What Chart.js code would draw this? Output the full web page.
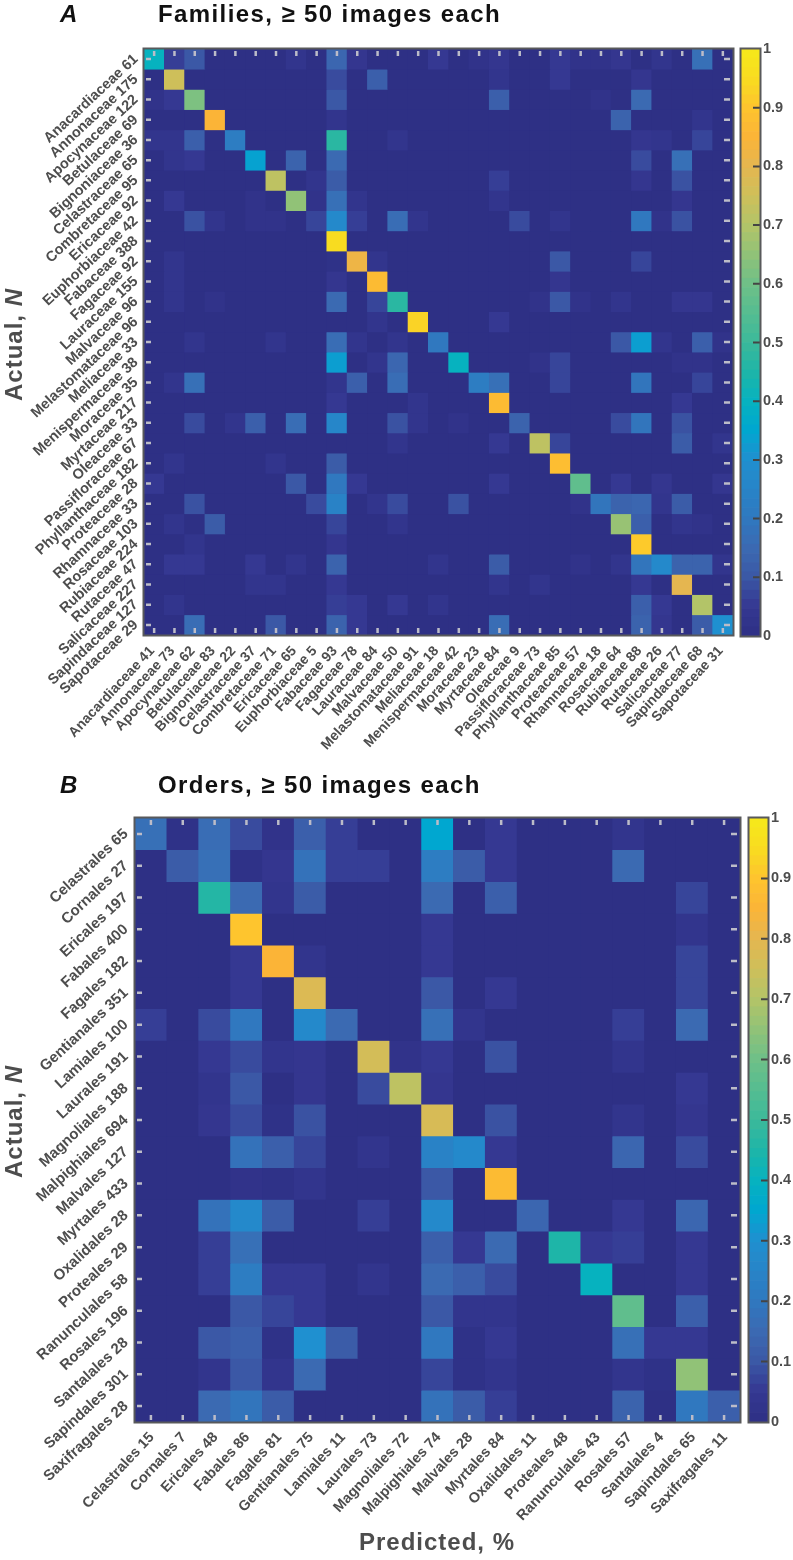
<!DOCTYPE html>
<html><head><meta charset="utf-8">
<script src="https://cdn.jsdelivr.net/npm/chart.js@4"></script>
<style>
html,body{margin:0;padding:0;background:#fff;width:793px;height:1560px;overflow:hidden}
canvas{position:absolute}
.t{position:absolute;font-family:"Liberation Sans",Arial,sans-serif;font-weight:bold;white-space:nowrap;line-height:1;z-index:5}
.h{font-size:24px;color:#111;letter-spacing:1.4px}
.l{font-size:24px;color:#4d4d4d;letter-spacing:1px}
.v{transform-origin:0 0;transform:rotate(-90deg)}
</style></head><body>
<div class="t h" style="left:60px;top:2px;font-style:italic">A</div>
<div class="t h" style="left:158px;top:2px">Families, ≥ 50 images each</div>
<div class="t h" style="left:60px;top:773px;font-style:italic">B</div>
<div class="t h" style="left:158px;top:773px">Orders, ≥ 50 images each</div>
<div class="t l v" style="left:2px;top:401px">Actual, <i>N</i></div>
<div class="t l v" style="left:2px;top:1178px">Actual, <i>N</i></div>
<div class="t l" style="left:359px;top:1530px">Predicted, %</div>
<canvas id="hA"></canvas><canvas id="cA"></canvas>
<canvas id="hB"></canvas><canvas id="cB"></canvas>
<script>
const familyRows = ["Anacardiaceae 61","Annonaceae 175","Apocynaceae 122","Betulaceae 69","Bignoniaceae 36","Celastraceae 65","Combretaceae 95","Ericaceae 92","Euphorbiaceae 42","Fabaceae 388","Fagaceae 92","Lauraceae 155","Malvaceae 96","Melastomataceae 96","Meliaceae 33","Menispermaceae 38","Moraceae 35","Myrtaceae 217","Oleaceae 33","Passifloraceae 67","Phyllanthaceae 182","Proteaceae 28","Rhamnaceae 33","Rosaceae 103","Rubiaceae 224","Rutaceae 47","Salicaceae 227","Sapindaceae 127","Sapotaceae 29"];
const familyCols = ["Anacardiaceae 41","Annonaceae 73","Apocynaceae 62","Betulaceae 83","Bignoniaceae 22","Celastraceae 37","Combretaceae 71","Ericaceae 65","Euphorbiaceae 5","Fabaceae 93","Fagaceae 78","Lauraceae 84","Malvaceae 50","Melastomataceae 91","Meliaceae 18","Menispermaceae 42","Moraceae 23","Myrtaceae 84","Oleaceae 9","Passifloraceae 73","Phyllanthaceae 85","Proteaceae 57","Rhamnaceae 18","Rosaceae 64","Rubiaceae 88","Rutaceae 26","Salicaceae 77","Sapindaceae 68","Sapotaceae 31"];
const familyValues = [
[40,6,10,0,0,0,0,3,0,14,4,0,0,0,5,0,2,4,0,0,5,2,2,4,0,3,0,17,0],
[0,75,0,0,0,0,0,0,0,8,0,12,0,0,0,0,0,3,0,0,5,0,0,0,4,0,0,0,0],
[2,5,62,0,0,0,0,0,0,10,0,0,0,0,0,0,0,12,0,0,0,0,2,0,15,0,0,0,0],
[0,0,0,85,0,0,0,0,0,3,0,0,0,0,0,0,0,0,0,0,0,0,0,13,0,0,0,3,0],
[3,3,12,0,22,0,0,0,0,47,0,0,3,0,0,0,0,0,0,0,0,0,0,0,4,3,0,7,0],
[0,3,5,0,0,34,0,13,0,15,0,0,0,0,0,0,0,0,0,0,0,0,0,0,8,0,17,0,0],
[0,0,0,0,0,0,72,0,3,11,0,0,0,0,0,0,0,6,0,0,0,0,0,0,4,0,9,0,0],
[0,5,0,0,0,2,0,65,2,17,3,0,0,0,0,0,0,3,0,0,0,0,0,0,0,0,4,0,0],
[0,0,9,3,0,2,2,0,7,27,6,0,16,3,0,0,0,0,8,0,3,0,0,0,20,2,9,0,0],
[0,0,0,0,0,0,0,0,0,95,0,0,0,0,0,0,0,0,0,0,0,0,0,0,0,0,0,0,0],
[0,3,0,0,0,0,0,0,0,1,82,3,0,0,0,0,0,0,0,0,10,0,0,0,7,0,0,0,0],
[0,3,0,0,0,0,0,0,0,4,0,87,0,0,0,0,0,0,0,0,4,0,0,0,0,0,0,0,0],
[0,3,0,2,0,0,0,0,0,15,0,7,47,0,0,0,0,0,0,2,10,2,0,3,0,0,4,4,0],
[0,0,0,0,0,0,0,0,0,0,0,3,0,93,0,0,0,5,0,0,0,0,0,0,0,0,0,0,0],
[0,0,3,0,0,0,3,0,0,16,3,0,3,0,20,0,0,0,0,0,0,0,0,10,33,3,0,12,2],
[0,0,0,0,0,0,0,0,0,33,0,3,14,0,0,40,0,0,0,2,7,0,0,0,0,0,2,2,0],
[0,3,17,0,0,0,0,0,0,3,12,0,16,0,0,0,22,17,0,0,7,0,0,0,19,0,0,7,0],
[0,0,0,0,0,0,0,0,0,5,0,0,0,3,0,0,0,87,0,0,0,0,0,0,0,0,5,0,0],
[0,0,8,0,3,12,0,16,0,26,0,0,9,3,0,2,0,0,13,0,0,0,0,8,19,0,9,0,0],
[0,0,0,0,0,0,0,0,0,0,0,0,3,0,0,0,0,5,0,72,7,0,0,0,0,0,11,0,3],
[0,3,0,0,0,0,3,0,0,11,0,0,0,0,0,0,0,0,0,0,88,0,0,0,0,0,0,0,0],
[5,0,0,0,0,0,0,10,0,20,5,0,0,0,0,0,0,5,0,0,0,57,0,5,0,4,0,0,4],
[0,0,9,0,0,0,0,0,8,24,0,3,8,0,0,9,0,0,0,0,0,2,19,13,14,3,11,0,0],
[0,3,0,11,0,0,0,0,0,7,0,0,3,0,0,0,0,0,0,0,0,0,0,66,12,0,3,2,0],
[0,0,3,0,0,0,0,0,0,4,0,0,0,0,0,0,0,0,0,0,0,0,0,0,91,0,0,0,0],
[0,5,5,0,0,5,0,3,0,13,0,0,0,0,3,0,0,11,0,0,0,2,0,3,19,27,13,13,3],
[0,0,0,0,0,3,3,0,0,5,0,0,0,0,0,0,0,3,0,3,0,0,0,0,5,0,80,0,0],
[0,3,0,0,0,0,0,0,0,6,5,0,5,0,3,0,0,0,0,0,0,0,0,0,12,5,0,70,0],
[0,0,16,0,0,0,10,0,0,13,5,0,0,0,0,0,0,16,0,0,0,0,0,0,13,4,0,11,30]
];
const orderRows = ["Celastrales 65","Cornales 27","Ericales 197","Fabales 400","Fagales 182","Gentianales 351","Lamiales 100","Laurales 191","Magnoliales 188","Malpighiales 694","Malvales 127","Myrtales 433","Oxalidales 28","Proteales 29","Ranunculales 58","Rosales 196","Santalales 28","Sapindales 301","Saxifragales 28"];
const orderCols = ["Celastrales 15","Cornales 7","Ericales 48","Fabales 86","Fagales 81","Gentianales 75","Lamiales 11","Laurales 73","Magnoliales 72","Malpighiales 74","Malvales 28","Myrtales 84","Oxalidales 11","Proteales 48","Ranunculales 43","Rosales 57","Santalales 4","Sapindales 65","Saxifragales 11"];
const orderValues = [
[17,1,16,8,2,12,6,0,0,35,0,5,0,0,0,3,0,0,0],
[0,11,17,1,4,18,6,6,0,22,11,5,0,0,0,15,0,0,0],
[0,0,46,15,3,11,0,0,0,15,0,12,0,0,0,0,0,7,0],
[0,0,0,90,0,0,0,0,0,5,0,0,0,0,0,0,0,3,0],
[0,0,0,5,85,3,0,0,0,5,0,0,0,0,0,0,0,7,0],
[0,0,0,5,0,78,0,0,0,10,0,5,0,0,0,0,0,7,0],
[6,0,8,20,0,27,15,0,0,17,3,0,0,0,0,6,0,15,0],
[0,0,5,8,3,4,0,76,2,5,0,9,0,0,0,3,0,0,0],
[0,0,3,10,0,4,0,8,72,4,0,0,0,0,0,0,0,5,0],
[0,0,4,8,1,9,0,0,0,77,0,9,0,0,0,3,0,4,0],
[0,0,0,18,12,7,0,3,0,24,27,5,0,0,0,14,0,8,0],
[0,0,0,2,1,3,0,0,0,10,0,87,0,0,0,0,0,0,0],
[0,0,18,27,11,0,0,6,0,27,0,0,14,0,0,5,0,14,0],
[0,0,6,17,0,0,0,0,0,12,5,15,0,45,5,6,0,5,0],
[0,0,6,22,5,5,0,3,0,15,12,8,0,0,40,0,0,5,0],
[0,0,0,10,7,5,0,0,0,10,3,3,0,0,0,57,0,12,0],
[0,0,10,12,1,30,11,0,0,20,1,5,0,0,0,17,5,5,0],
[0,0,3,10,3,15,0,0,0,7,1,3,0,0,0,3,1,65,0],
[0,0,15,19,11,0,0,0,0,18,11,6,0,0,0,13,0,20,12]
];
const colorbarTicks = [0,0.1,0.2,0.3,0.4,0.5,0.6,0.7,0.8,0.9,1];

const stops = [[0,[46,48,133]],[.05,[53,56,146]],[.1,[59,88,166]],[.15,[59,106,178]],[.2,[48,120,191]],[.3,[31,144,208]],[.35,[0,167,208]],[.4,[6,178,191]],[.45,[30,181,168]],[.5,[60,185,154]],[.6,[111,192,135]],[.7,[179,196,104]],[.75,[206,191,90]],[.8,[229,182,80]],[.85,[251,180,55]],[.9,[254,197,46]],[.95,[248,220,32]],[1,[246,233,26]]];
function colorAt(t){
  for(let i=1;i<stops.length;i++){
    if(t<=stops[i][0]){
      const [a,ca]=stops[i-1],[b,cb]=stops[i],f=(t-a)/(b-a);
      return `rgb(${ca.map((v,k)=>Math.round(v+(cb[k]-v)*f)).join(',')})`;
    }
  }
  return 'rgb(246,233,26)';
}
const FAMILY='"Liberation Sans",Arial,sans-serif';
const TXT='#4d4d4d', FRAME='#58595b', TICK='#bcbcc8';

const framePlugin={id:'frame',
  beforeDatasetsDraw(c){const a=c.chartArea,x=c.ctx;x.save();x.fillStyle=colorAt(0);x.fillRect(a.left,a.top,a.width,a.height);x.restore();},
  afterDatasetsDraw(c){
    const a=c.chartArea,x=c.ctx,sx=c.scales.x,sy=c.scales.y;
    x.save();x.strokeStyle=TICK;x.lineWidth=2.5;x.beginPath();
    sx.ticks.forEach((_,i)=>{const p=sx.getPixelForTick(i);x.moveTo(p,a.top+2);x.lineTo(p,a.top+7);x.moveTo(p,a.bottom-7);x.lineTo(p,a.bottom-2);});
    sy.ticks.forEach((t)=>{const p=sy.getPixelForValue(t.value);x.moveTo(a.left+2,p);x.lineTo(a.left+7,p);x.moveTo(a.right-9,p);x.lineTo(a.right-3,p);});
    x.stroke();
    x.strokeStyle=FRAME;x.lineWidth=2;x.strokeRect(a.left-.5,a.top-.5,a.width+1,a.height+1);
    x.restore();
  }};
const cbarPlugin={id:'cbarFrame',
  afterDatasetsDraw(c){
    const a=c.chartArea,x=c.ctx,sy=c.scales.y;
    x.save();x.strokeStyle='#444';x.lineWidth=2;x.beginPath();
    sy.ticks.forEach(t=>{if(t.value>0&&t.value<1){const p=sy.getPixelForValue(t.value);x.moveTo(a.right-7,p);x.lineTo(a.right,p);}});
    x.stroke();
    x.strokeStyle=FRAME;x.lineWidth=2;x.strokeRect(a.left-.5,a.top-.5,a.width+1,a.height+1);
    x.restore();
  }};

function place(id,l,t,w,h){const c=document.getElementById(id);c.style.left=l+'px';c.style.top=t+'px';c.width=w;c.height=h;c.style.width=w+'px';c.style.height=h+'px';return c;}

function heatmap(id,rows,cols,vals,top,w,h,L,R,T,B,st){
  const cv=place(id,0,top,w,h);
  const N=rows.length;
  return new Chart(cv,{type:'bar',plugins:[framePlugin],
    data:{labels:cols,datasets:vals.map((row,i)=>({
      label:rows[i],data:row.map(()=>[i,i+1]),
      backgroundColor:row.map(v=>colorAt(v/100)),
      borderWidth:0,barPercentage:1,categoryPercentage:1}))},
    options:{responsive:false,animation:false,events:[],
      layout:{padding:{top:T-top,right:w-R,left:0,bottom:0}},
      plugins:{legend:{display:false},tooltip:{enabled:false},title:{display:false}},
      scales:{
        x:{type:'category',stacked:true,offset:true,grid:{display:false,drawTicks:false},border:{display:false},
          afterFit(s){s.height=top+h-B;s.paddingLeft=0;s.paddingRight=0;},
          ticks:{autoSkip:false,minRotation:47,maxRotation:47,padding:st.xPad,labelOffset:st.xOff,color:TXT,font:{family:FAMILY,weight:'bold',size:st.xSize}}},
        y:{type:'linear',reverse:true,min:0,max:N,grid:{display:false,drawTicks:false},border:{display:false},
          afterFit(s){s.width=L;s.paddingTop=0;s.paddingBottom=0;},
          afterBuildTicks(s){s.ticks=rows.map((_,i)=>({value:i+.5}));},
          ticks:{autoSkip:false,minRotation:43,maxRotation:43,padding:st.yPad,labelOffset:st.yOff,color:TXT,font:{family:FAMILY,weight:'bold',size:st.ySize},
            callback:v=>rows[Math.round(v-.5)]}}
      }}});
}
function colorbar(id,left,top,w,h,T,B,L,R){
  const cv=place(id,left,top,w,h);
  const levels=Array.from({length:64},(_,k)=>k);
  return new Chart(cv,{type:'bar',plugins:[cbarPlugin],
    data:{labels:[''],datasets:levels.map(k=>({data:[[k/64,(k+1)/64]],backgroundColor:colorAt((k+.5)/64),borderWidth:0,barPercentage:1,categoryPercentage:1}))},
    options:{responsive:false,animation:false,events:[],
      layout:{padding:{top:T-top,bottom:top+h-B,left:L-left,right:0}},
      plugins:{legend:{display:false},tooltip:{enabled:false}},
      scales:{
        x:{stacked:true,display:false},
        y:{type:'linear',position:'right',min:0,max:1,grid:{display:false,drawTicks:false},border:{display:false},
          afterFit(s){s.width=left+w-R;s.paddingTop=0;s.paddingBottom=0;},
          afterBuildTicks(s){s.ticks=colorbarTicks.map(v=>({value:v}));},
          ticks:{padding:3,color:TXT,font:{family:FAMILY,weight:'bold',size:14.5},callback:v=>String(v)}}
      }}});
}
heatmap('hA',familyRows,familyCols,familyValues,0,736,772,144,733,49,635,{xPad:8,xOff:-2,xSize:14,yPad:8,yOff:-2,ySize:14.5});
colorbar('cA',736,30,57,625,49,636,741,760);
heatmap('hB',orderRows,orderCols,orderValues,772,744,760,135,740,818,1422,{xPad:7,xOff:1,xSize:14.5,yPad:9,yOff:-2,ySize:15});
colorbar('cB',744,800,49,640,818,1422,749,768);
</script>
</body></html>
